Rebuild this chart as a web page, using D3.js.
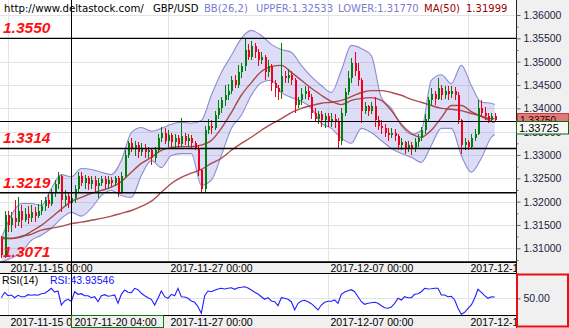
<!DOCTYPE html>
<html>
<head>
<meta charset="utf-8">
<script src="https://cdn.jsdelivr.net/npm/d3@7"></script>
<style>
  body { margin: 0; background: #fff; }
  svg { display: block; font-family: "Liberation Sans", Arial, sans-serif; }
</style>
</head>
<body>
<svg id="chart" width="569" height="328"></svg>
<script>
// ---- GBP/USD, 4-hour bars ----
const tickIndex  = [2, 50, 98, 140];
const tickLabels = ["2017-11-15 00:00", "2017-11-27 00:00", "2017-12-07 00:00", "2017-12-18 00:00"];
const crossIndex = 21;
const crossLabel = "2017-11-20 04:00";
const crossPrice = 1.33725;

const open = [
  1.3121,1.3085,1.3171,1.3149,1.3164,1.3156,1.3181,1.3160,1.3173,1.3164,
  1.3177,1.3169,1.3181,1.3190,1.3203,1.3194,1.3220,1.3237,1.3254,1.3203,
  1.3213,1.3198,1.3207,1.3228,1.3254,1.3241,1.3250,1.3237,1.3246,1.3233,
  1.3241,1.3248,1.3237,1.3246,1.3239,1.3250,1.3220,1.3256,1.3299,1.3325,
  1.3314,1.3321,1.3306,1.3314,1.3306,1.3310,1.3293,1.3310,1.3336,1.3348,
  1.3331,1.3342,1.3327,1.3336,1.3323,1.3340,1.3331,1.3336,1.3325,1.3316,
  1.3267,1.3228,1.3353,1.3363,1.3357,1.3385,1.3400,1.3417,1.3428,1.3438,
  1.3460,1.3451,1.3477,1.3490,1.3524,1.3511,1.3533,1.3520,1.3503,1.3511,
  1.3477,1.3490,1.3455,1.3443,1.3434,1.3470,1.3464,1.3472,1.3460,1.3408,
  1.3417,1.3430,1.3438,1.3425,1.3391,1.3378,1.3387,1.3374,1.3383,1.3370,
  1.3378,1.3370,1.3331,1.3391,1.3434,1.3464,1.3498,1.3481,1.3460,1.3395,
  1.3404,1.3395,1.3404,1.3374,1.3363,1.3357,1.3348,1.3342,1.3348,1.3340,
  1.3321,1.3327,1.3314,1.3321,1.3312,1.3327,1.3336,1.3353,1.3378,1.3417,
  1.3430,1.3421,1.3443,1.3428,1.3438,1.3430,1.3438,1.3428,1.3374,1.3321,
  1.3327,1.3318,1.3336,1.3346,1.3400,1.3391,1.3383,1.3374,1.3383
];
const high = [
  1.3126,1.3181,1.3181,1.3177,1.3203,1.3211,1.3192,1.3186,1.3190,1.3192,
  1.3188,1.3194,1.3203,1.3211,1.3216,1.3228,1.3246,1.3263,1.3258,1.3224,
  1.3220,1.3218,1.3235,1.3263,1.3263,1.3258,1.3256,1.3254,1.3254,1.3250,
  1.3254,1.3256,1.3254,1.3252,1.3256,1.3254,1.3263,1.3310,1.3331,1.3336,
  1.3331,1.3327,1.3325,1.3323,1.3318,1.3314,1.3318,1.3344,1.3359,1.3357,
  1.3353,1.3348,1.3344,1.3342,1.3380,1.3348,1.3344,1.3342,1.3331,1.3321,
  1.3271,1.3363,1.3378,1.3374,1.3395,1.3417,1.3425,1.3449,1.3453,1.3470,
  1.3472,1.3492,1.3498,1.3550,1.3537,1.3545,1.3541,1.3528,1.3520,1.3515,
  1.3503,1.3494,1.3460,1.3449,1.3539,1.3481,1.3485,1.3481,1.3464,1.3425,
  1.3443,1.3447,1.3445,1.3430,1.3400,1.3395,1.3395,1.3391,1.3391,1.3389,
  1.3387,1.3380,1.3400,1.3443,1.3481,1.3507,1.3520,1.3498,1.3464,1.3413,
  1.3408,1.3413,1.3425,1.3383,1.3374,1.3366,1.3357,1.3357,1.3355,1.3346,
  1.3336,1.3331,1.3329,1.3327,1.3336,1.3344,1.3361,1.3387,1.3425,1.3443,
  1.3438,1.3464,1.3449,1.3447,1.3447,1.3447,1.3445,1.3434,1.3378,1.3336,
  1.3333,1.3344,1.3355,1.3417,1.3417,1.3402,1.3389,1.3391,1.3389
];
const low = [
  1.3079,1.3079,1.3134,1.3134,1.3143,1.3147,1.3143,1.3156,1.3152,1.3156,
  1.3156,1.3164,1.3171,1.3181,1.3186,1.3190,1.3211,1.3228,1.3177,1.3190,
  1.3186,1.3190,1.3198,1.3220,1.3233,1.3228,1.3224,1.3228,1.3220,1.3207,
  1.3233,1.3228,1.3228,1.3231,1.3233,1.3211,1.3216,1.3250,1.3293,1.3306,
  1.3297,1.3293,1.3297,1.3293,1.3293,1.3278,1.3284,1.3306,1.3327,1.3323,
  1.3318,1.3314,1.3316,1.3314,1.3318,1.3321,1.3318,1.3314,1.3310,1.3256,
  1.3218,1.3218,1.3344,1.3346,1.3353,1.3378,1.3391,1.3404,1.3417,1.3430,
  1.3443,1.3443,1.3464,1.3481,1.3503,1.3503,1.3507,1.3490,1.3494,1.3460,
  1.3468,1.3438,1.3425,1.3417,1.3421,1.3455,1.3455,1.3451,1.3389,1.3400,
  1.3408,1.3421,1.3417,1.3378,1.3370,1.3366,1.3361,1.3357,1.3359,1.3361,
  1.3357,1.3316,1.3321,1.3383,1.3428,1.3455,1.3470,1.3447,1.3368,1.3387,
  1.3383,1.3387,1.3359,1.3353,1.3346,1.3338,1.3331,1.3336,1.3331,1.3310,
  1.3310,1.3303,1.3306,1.3301,1.3306,1.3318,1.3329,1.3346,1.3372,1.3408,
  1.3408,1.3417,1.3417,1.3421,1.3417,1.3423,1.3417,1.3366,1.3303,1.3310,
  1.3310,1.3314,1.3331,1.3342,1.3383,1.3374,1.3368,1.3370,1.3370
];
const close = [
  1.3085,1.3171,1.3149,1.3164,1.3156,1.3181,1.3160,1.3173,1.3164,1.3177,
  1.3169,1.3181,1.3190,1.3203,1.3194,1.3220,1.3237,1.3254,1.3203,1.3213,
  1.3198,1.3207,1.3228,1.3254,1.3241,1.3250,1.3237,1.3246,1.3233,1.3241,
  1.3248,1.3237,1.3246,1.3239,1.3250,1.3220,1.3256,1.3299,1.3325,1.3314,
  1.3321,1.3306,1.3314,1.3306,1.3310,1.3293,1.3310,1.3336,1.3348,1.3331,
  1.3342,1.3327,1.3336,1.3323,1.3340,1.3331,1.3336,1.3325,1.3316,1.3267,
  1.3228,1.3353,1.3363,1.3357,1.3385,1.3400,1.3417,1.3428,1.3438,1.3460,
  1.3451,1.3477,1.3490,1.3524,1.3511,1.3533,1.3520,1.3503,1.3511,1.3477,
  1.3490,1.3455,1.3443,1.3434,1.3470,1.3464,1.3472,1.3460,1.3408,1.3417,
  1.3430,1.3438,1.3425,1.3391,1.3378,1.3387,1.3374,1.3383,1.3370,1.3378,
  1.3370,1.3331,1.3391,1.3434,1.3464,1.3498,1.3481,1.3460,1.3395,1.3404,
  1.3395,1.3404,1.3374,1.3363,1.3357,1.3348,1.3342,1.3348,1.3340,1.3321,
  1.3327,1.3314,1.3321,1.3312,1.3327,1.3336,1.3353,1.3378,1.3417,1.3430,
  1.3421,1.3443,1.3428,1.3438,1.3430,1.3438,1.3428,1.3374,1.3321,1.3327,
  1.3318,1.3336,1.3346,1.3400,1.3391,1.3383,1.3374,1.3383,1.3375
];

// indicator readings, every third bar plus the last one
const bandIndex = d3.range(0, 148, 3).concat([148]);
const bbUpper = [
  1.3121,1.3171,1.3196,1.3196,1.3192,1.3228,1.3258,1.32533,1.3271,1.3269,
  1.3263,1.3258,1.3288,1.3348,1.3359,1.3351,1.3357,1.3366,1.3370,1.3368,
  1.3374,1.3428,1.3477,1.3513,1.3550,1.3567,1.3556,1.3537,1.3526,1.3520,
  1.3492,1.3468,1.3449,1.3434,1.3481,1.3535,1.3528,1.3513,1.3423,1.3400,
  1.3363,1.3344,1.3353,1.3460,1.3472,1.3453,1.3492,1.3449,1.3413,1.3411,1.3408
];
const bbLower = [
  1.3070,1.3079,1.3091,1.3117,1.3128,1.3143,1.3164,1.31770,1.3169,1.3186,
  1.3213,1.3224,1.3213,1.3209,1.3256,1.3288,1.3273,1.3299,1.3303,1.3303,
  1.3235,1.3246,1.3299,1.3357,1.3385,1.3428,1.3455,1.3460,1.3434,1.3423,
  1.3415,1.3400,1.3368,1.3357,1.3336,1.3325,1.3357,1.3348,1.3331,1.3314,
  1.3303,1.3295,1.3284,1.3321,1.3357,1.3357,1.3299,1.3263,1.3293,1.3338,1.3344
];
const ma50 = [
  1.3124,1.3121,1.3124,1.3136,1.3149,1.3166,1.3184,1.31999,1.3209,1.3218,
  1.3224,1.3231,1.3243,1.3263,1.3282,1.3295,1.3310,1.3316,1.3318,1.3318,
  1.3321,1.3331,1.3357,1.3391,1.3428,1.3455,1.3479,1.3490,1.3492,1.3477,
  1.3460,1.3443,1.3428,1.3415,1.3408,1.3417,1.3421,1.3423,1.3417,1.3395,
  1.3366,1.3346,1.3338,1.3353,1.3380,1.3406,1.3406,1.3393,1.3383,1.3378,1.3378
];
const maLong = [
  1.3121,1.3121,1.3126,1.3130,1.3139,1.3143,1.3147,1.3153,1.3156,1.3160,
  1.3164,1.3169,1.3175,1.3181,1.3190,1.3201,1.3220,1.3239,1.3252,1.3261,
  1.3269,1.3282,1.3293,1.3310,1.3325,1.3338,1.3353,1.3366,1.3378,1.3391,
  1.3400,1.3406,1.3411,1.3413,1.3417,1.3425,1.3434,1.3438,1.3438,1.3434,
  1.3428,1.3419,1.3413,1.3406,1.3400,1.3398,1.3395,1.3389,1.3383,1.3372,1.3370
];
const rsi = [
  51.2,62.0,55.2,56.6,51.2,56.0,53.2,53.2,57.2,56.0,
  57.2,56.0,59.2,60.0,64.6,70.0,62.6,64.6,36.6,44.6,
  48.0,43.93546,63.2,58.0,59.2,55.2,55.2,51.2,53.2,43.2,
  55.2,57.2,54.0,55.2,56.6,40.0,58.0,66.6,62.0,61.2,
  70.0,67.2,60.0,55.2,51.2,48.0,36.6,50.0,64.6,53.2,
  50.0,58.0,55.2,70.0,53.2,52.6,50.0,44.6,42.0,33.2,
  20.0,55.2,64.6,63.2,66.0,68.6,70.0,68.6,70.0,71.2,
  68.0,71.2,72.0,73.2,70.6,66.6,62.0,58.6,53.2,48.0,
  51.2,44.6,43.2,35.2,51.2,50.0,48.0,43.2,26.6,40.0,
  44.6,46.0,43.2,39.2,33.2,26.6,36.6,42.0,44.0,44.0,
  46.6,40.0,58.0,62.6,65.2,67.2,63.2,53.2,43.2,38.0,
  40.0,41.2,42.0,40.0,35.2,31.2,30.0,32.6,40.0,50.0,
  46.6,53.2,51.2,51.2,58.0,59.2,63.2,70.0,68.6,69.2,
  70.0,70.0,56.6,56.6,53.2,54.0,46.6,30.0,18.0,22.0,
  30.0,36.6,50.0,68.0,62.0,55.2,50.0,53.2,52.6
];

// support / resistance levels
const levels = [1.3550, 1.3314, 1.3219, 1.3071];

// ---- layout ----
const W = 569, H = 328, plotR = 516;
const priceBottom = 262, rsiTop = 273, rsiBottom = 315;

const svg = d3.select("#chart");
const x = d3.scaleLinear().domain([2, 140]).range([8, 468]);
const y = d3.scaleLinear().domain([1.31, 1.36]).range([248.3, 15]);
const yR = d3.scaleLinear().domain([0, 100]).range([323.3, 273.3]);
const fmt5 = d3.format(".5f");

const cx = Math.round(x(crossIndex)) + 0.5;
const cy = Math.round(y(crossPrice)) + 0.5;

const defs = svg.append("defs");
function clipRect(id, x0, y0, w, h) {
  defs.append("clipPath").attr("id", id)
    .append("rect").attr("x", x0).attr("y", y0).attr("width", w).attr("height", h);
}
clipRect("clipPrice", 0, 0, plotR, priceBottom);
clipRect("clipRsi", 0, rsiTop, plotR, rsiBottom - rsiTop);
clipRect("clipBand1", 0, priceBottom, plotR, rsiTop - priceBottom);
clipRect("clipBand2", 0, rsiBottom, plotR, H - rsiBottom);
clipRect("clipAboveCross", plotR, 0, W - plotR, cy);

svg.append("rect").attr("width", W).attr("height", H).attr("fill", "#fff");

// ---- price panel ----
const price = svg.append("g").attr("clip-path", "url(#clipPrice)");
const majorTicks = d3.range(0, 11).map(k => +(1.31 + k * 0.005).toFixed(4));
const minorTicks = d3.range(0, 11).map(k => +(1.3075 + k * 0.005).toFixed(4));

price.append("g").selectAll("line").data(majorTicks).join("line")
  .attr("x1", 0).attr("x2", plotR)
  .attr("y1", d => Math.round(y(d)) + 0.5).attr("y2", d => Math.round(y(d)) + 0.5)
  .attr("stroke", "#e4e4e4");
price.append("g").selectAll("line").data(tickIndex).join("line")
  .attr("x1", d => Math.round(x(d)) + 0.5).attr("x2", d => Math.round(x(d)) + 0.5)
  .attr("y1", 0).attr("y2", priceBottom)
  .attr("stroke", "#e4e4e4");

const bandPts = bandIndex.map((i, k) => ({ i, hi: bbUpper[k], lo: bbLower[k], m: ma50[k], s: maLong[k] }));
const curve = d3.curveMonotoneX;

price.append("path").datum(bandPts)
  .attr("d", d3.area().x(d => x(d.i)).y0(d => y(d.lo)).y1(d => y(d.hi)).curve(curve))
  .attr("fill", "rgba(112,112,222,0.24)");
["hi", "lo"].forEach(key => {
  price.append("path").datum(bandPts)
    .attr("d", d3.line().x(d => x(d.i)).y(d => y(d[key])).curve(curve))
    .attr("fill", "none").attr("stroke", "#8d8dcf").attr("stroke-width", 1.1);
});
["s", "m"].forEach(key => {
  price.append("path").datum(bandPts)
    .attr("d", d3.line().x(d => x(d.i)).y(d => y(d[key])).curve(curve))
    .attr("fill", "none").attr("stroke", "#a3393b").attr("stroke-width", 1.4).attr("stroke-opacity", 0.9);
});

// candles
const bars = open.map((o, i) => ({ i, o, h: high[i], l: low[i], c: close[i] }));
const candle = price.append("g").attr("shape-rendering", "crispEdges")
  .selectAll("g").data(bars).join("g");
const colorOf = d => d.c >= d.o ? "#00800a" : "#f0001c";
candle.append("line")
  .attr("x1", d => Math.round(x(d.i)) + 0.5).attr("x2", d => Math.round(x(d.i)) + 0.5)
  .attr("y1", d => y(d.h)).attr("y2", d => y(d.l))
  .attr("stroke", colorOf);
candle.append("rect")
  .attr("x", d => Math.round(x(d.i)) - 0.5).attr("width", 2)
  .attr("y", d => y(Math.max(d.o, d.c)))
  .attr("height", d => Math.max(1, Math.abs(y(d.o) - y(d.c))))
  .attr("fill", colorOf);

// level lines and their labels
price.append("g").selectAll("line").data(levels).join("line")
  .attr("x1", 0).attr("x2", plotR)
  .attr("y1", d => y(d)).attr("y2", d => y(d))
  .attr("stroke", "#000").attr("stroke-width", 1.4);
price.append("g").selectAll("text").data(levels).join("text")
  .attr("x", 3).attr("y", d => y(d) - 5)
  .attr("fill", "#ff1010").attr("font-size", 15.5).attr("font-weight", "bold").attr("font-style", "italic")
  .attr("font-family", "'Liberation Sans', Arial, sans-serif")
  .text(d => d.toFixed(4));

// crosshair
svg.append("line").attr("x1", 0).attr("x2", plotR).attr("y1", cy).attr("y2", cy).attr("stroke", "#000");
svg.append("line").attr("x1", cx).attr("x2", cx).attr("y1", 0).attr("y2", H).attr("stroke", "#000");

// header
const k0 = bandIndex.indexOf(crossIndex);
const header = svg.append("g").attr("font-family", "'DejaVu Sans', Verdana, sans-serif");
[
  { x: 4,   t: "http://www.deltastock.com/", c: "#000", s: 10.2 },
  { x: 153, t: "GBP/USD", c: "#000", s: 10 },
  { x: 204, t: "BB(26,2)", c: "#7b7bd2", s: 10 },
  { x: 256, t: "UPPER:" + fmt5(bbUpper[k0]), c: "#7b7bd2", s: 10 },
  { x: 338, t: "LOWER:" + fmt5(bbLower[k0]), c: "#7b7bd2", s: 10 },
  { x: 424, t: "MA(50)", c: "#9a0000", s: 10 },
  { x: 466, t: fmt5(ma50[k0]), c: "#9a0000", s: 10 }
].forEach(d => {
  header.append("text").attr("x", d.x).attr("y", 12).attr("fill", d.c).attr("font-size", d.s).text(d.t);
});

// ---- RSI panel ----
const rsiG = svg.append("g").attr("clip-path", "url(#clipRsi)");
rsiG.append("line").attr("x1", 0).attr("x2", plotR)
  .attr("y1", Math.round(yR(50)) + 0.5).attr("y2", Math.round(yR(50)) + 0.5).attr("stroke", "#e4e4e4");
rsiG.append("g").selectAll("line").data(tickIndex).join("line")
  .attr("x1", d => Math.round(x(d)) + 0.5).attr("x2", d => Math.round(x(d)) + 0.5)
  .attr("y1", rsiTop).attr("y2", rsiBottom).attr("stroke", "#e4e4e4");
rsiG.append("path").datum(rsi)
  .attr("d", d3.line().x((d, i) => x(i)).y(d => yR(d)))
  .attr("fill", "none").attr("stroke", "#1f1fff").attr("stroke-width", 1.1);
svg.append("line").attr("x1", cx).attr("x2", cx).attr("y1", rsiTop).attr("y2", rsiBottom).attr("stroke", "#000");
svg.append("text").attr("x", 2).attr("y", 284).attr("font-size", 10.5).attr("fill", "#000").text("RSI(14)");
svg.append("text").attr("x", 50).attr("y", 284).attr("font-size", 10.5).attr("fill", "#1010ff")
  .text("RSI:" + fmt5(rsi[crossIndex]));

// ---- time axis bands ----
function timeBand(top, bottom, textY, clipId) {
  svg.append("rect").attr("x", 0).attr("y", top).attr("width", plotR).attr("height", bottom - top).attr("fill", "#f0f0f0");
  const ax = svg.append("g").attr("clip-path", `url(#${clipId})`)
    .append("g").attr("transform", `translate(0,${top})`)
    .call(d3.axisBottom(x).tickValues(tickIndex).tickFormat((d, i) => tickLabels[i]).tickSize(0));
  ax.select(".domain").remove();
  ax.selectAll("text").attr("font-size", 10.5).attr("fill", "#000")
    .attr("text-anchor", "start").attr("dx", 2).attr("y", textY - top).attr("dy", "0.35em")
    .attr("font-family", "'Liberation Sans', Arial, sans-serif");
  return ax;
}
timeBand(priceBottom, rsiTop, 268, "clipBand1");
svg.append("line").attr("x1", 0).attr("x2", plotR).attr("y1", priceBottom + 0.5).attr("y2", priceBottom + 0.5).attr("stroke", "#000");
svg.append("line").attr("x1", 0).attr("x2", plotR).attr("y1", rsiTop + 0.5).attr("y2", rsiTop + 0.5).attr("stroke", "#000");
const band2 = timeBand(rsiBottom, H, 322, "clipBand2");
// the first label runs under the crosshair time box: clip it in the tick's own coordinates
const firstTick = band2.selectAll(".tick").filter((d, i) => i === 0);
const tickX = x(tickIndex[0]) + 0.5;
defs.append("clipPath").attr("id", "clipBeforeCross")
  .append("rect").attr("x", -tickX).attr("y", 0).attr("width", cx).attr("height", H - rsiBottom);
firstTick.select("text").attr("clip-path", "url(#clipBeforeCross)");
svg.append("line").attr("x1", 0).attr("x2", plotR).attr("y1", rsiBottom + 0.5).attr("y2", rsiBottom + 0.5).attr("stroke", "#000");
svg.append("line").attr("x1", cx).attr("x2", cx).attr("y1", priceBottom).attr("y2", rsiTop).attr("stroke", "#000");

// crosshair time label
svg.append("rect").attr("x", cx).attr("y", rsiBottom + 0.5).attr("width", 92).attr("height", 12)
  .attr("fill", "#f0f0f0").attr("stroke", "#0a7a0a");
svg.append("text").attr("x", cx + 3).attr("y", 322).attr("dy", "0.35em").attr("font-size", 10.5).attr("fill", "#000")
  .text(crossLabel);

// ---- right value axis ----
svg.append("rect").attr("x", plotR).attr("y", 0).attr("width", W - plotR).attr("height", H).attr("fill", "#f0f0f0");
svg.append("line").attr("x1", plotR + 0.5).attr("x2", plotR + 0.5).attr("y1", 0).attr("y2", H).attr("stroke", "#222");

const yAxis = svg.append("g").attr("transform", `translate(${plotR + 0.5},0)`)
  .call(d3.axisRight(y).tickValues(majorTicks).tickFormat(fmt5).tickSize(4).tickPadding(3));
yAxis.select(".domain").remove();
yAxis.selectAll("line").attr("stroke", "#666");
yAxis.selectAll("text").attr("font-size", 10.5).attr("fill", "#1a2440")
  .attr("font-family", "'Liberation Sans', Arial, sans-serif");
const yMinor = svg.append("g").attr("transform", `translate(${plotR + 0.5},0)`)
  .call(d3.axisRight(y).tickValues(minorTicks).tickFormat("").tickSize(2));
yMinor.select(".domain").remove();
yMinor.selectAll("line").attr("stroke", "#666");

// last price label, mostly hidden under the crosshair price label
const last = close[close.length - 1];
const lastY = Math.round(y(last)) - 6;
const lastG = svg.append("g").attr("clip-path", "url(#clipAboveCross)");
lastG.append("rect").attr("x", plotR + 1.5).attr("y", lastY - 0.5).attr("width", 51).attr("height", 12)
  .attr("fill", "#e07a7a").attr("stroke", "#c84040");
lastG.append("text").attr("x", plotR + 4).attr("y", lastY + 6.5).attr("dy", "0.35em")
  .attr("font-size", 10).attr("fill", "#300").text(fmt5(last));
svg.append("rect").attr("x", plotR + 0.5).attr("y", cy).attr("width", 52).attr("height", 12.5)
  .attr("fill", "#f7f7f7").attr("stroke", "#0a6a0a");
svg.append("text").attr("x", plotR + 3).attr("y", cy + 6.5).attr("dy", "0.35em")
  .attr("font-size", 11).attr("fill", "#000").text(fmt5(crossPrice));

// RSI value axis
const rAxis = svg.append("g").attr("transform", `translate(${plotR + 0.5},0)`)
  .call(d3.axisRight(yR).tickValues([50]).tickFormat(d3.format(".2f")).tickSize(4).tickPadding(3));
rAxis.select(".domain").remove();
rAxis.selectAll("line").attr("stroke", "#666");
rAxis.selectAll("text").attr("font-size", 10.5).attr("fill", "#1a2440");
const rMinor = svg.append("g").attr("transform", `translate(${plotR + 0.5},0)`)
  .call(d3.axisRight(yR).tickValues([0, 100]).tickFormat("").tickSize(2));
rMinor.select(".domain").remove();
rMinor.selectAll("line").attr("stroke", "#666");
svg.append("rect").attr("x", plotR + 1).attr("y", rsiTop + 1.5).attr("width", W - plotR - 2).attr("height", H - rsiTop - 3)
  .attr("fill", "none").attr("stroke", "#e81010").attr("stroke-width", 2);
</script>
</body>
</html>
